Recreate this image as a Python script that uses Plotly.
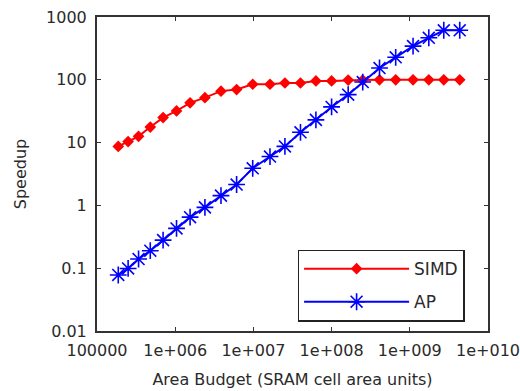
import plotly.graph_objects as go

area_budget = [1.87e5, 2.5e5, 3.4e5, 4.8e5, 7.0e5, 1.04e6, 1.55e6, 2.4e6, 3.85e6, 6.1e6,
               9.8e6, 1.63e7, 2.53e7, 4.0e7, 6.3e7, 1.0e8, 1.63e8, 2.5e8, 4.1e8, 6.6e8,
               1.1e9, 1.75e9, 2.72e9, 4.35e9]
simd_speedup = [8.7, 10.4, 12.6, 17.7, 25, 32, 43, 52, 66, 70,
                85, 85, 89, 89, 96, 96, 99, 99, 100, 100,
                100, 100, 100, 100]
ap_speedup = [0.078, 0.099, 0.14, 0.19, 0.28, 0.43, 0.65, 0.93, 1.43, 2.15,
              3.9, 6.0, 8.7, 14.6, 23, 37, 58, 92, 154, 228,
              344, 467, 615, 615]

x_tickvals = [1e5, 1e6, 1e7, 1e8, 1e9, 1e10]
x_ticktext = ["100000", "1e+006", "1e+007", "1e+008", "1e+009", "1e+010"]
y_tickvals = [0.01, 0.1, 1, 10, 100, 1000]
y_ticktext = ["0.01", "0.1", "1", "10", "100", "1000"]

FONT = "DejaVu Sans, Liberation Sans, Arial, sans-serif"
TXT = "#2a2a2a"

fig = go.Figure()
fig.add_trace(go.Scatter(
    x=area_budget, y=simd_speedup, name="SIMD", mode="lines+markers",
    line=dict(color="#ff0000", width=2),
    marker=dict(symbol="diamond", size=9, color="#ff0000"),
    legendgroup="a",
))
fig.add_trace(go.Scatter(
    x=area_budget, y=ap_speedup, name="AP", mode="lines+markers",
    line=dict(color="#0000ff", width=2),
    marker=dict(symbol="asterisk-open", size=14, color="#0000ff",
                line=dict(color="#0000ff", width=1.6)),
    legendgroup="b",
))

axis_common = dict(
    showline=True, linecolor="#333333", linewidth=2, mirror="ticks",
    ticks="inside", ticklen=4, tickcolor="#333333", tickwidth=1,
    showgrid=False, zeroline=False, automargin=False,
    tickfont=dict(family=FONT, size=16, color=TXT),
)

fig.update_xaxes(type="log", range=[5, 10], tickvals=x_tickvals, ticktext=x_ticktext,
                 ticklabelstandoff=4,
                 title=dict(text="Area Budget (SRAM cell area units)",
                            font=dict(family=FONT, size=16, color=TXT)),
                 **axis_common)
fig.update_yaxes(type="log", range=[-2, 3], tickvals=y_tickvals, ticktext=y_ticktext,
                 ticklabelstandoff=5,
                 title=dict(text="Speedup",
                            font=dict(family=FONT, size=16, color=TXT)),
                 **axis_common)

fig.update_layout(
    width=520, height=391,
    margin=dict(l=97, r=32, t=17, b=60),
    paper_bgcolor="white", plot_bgcolor="white",
    showlegend=True,
    legend=dict(
        x=0.513, y=0.03, xanchor="left", yanchor="bottom",
        bgcolor="white", bordercolor="#222222", borderwidth=1.5,
        font=dict(family=FONT, size=17, color=TXT),
        itemwidth=105, tracegroupgap=8,
    ),
)

fig.write_html("out.html")
